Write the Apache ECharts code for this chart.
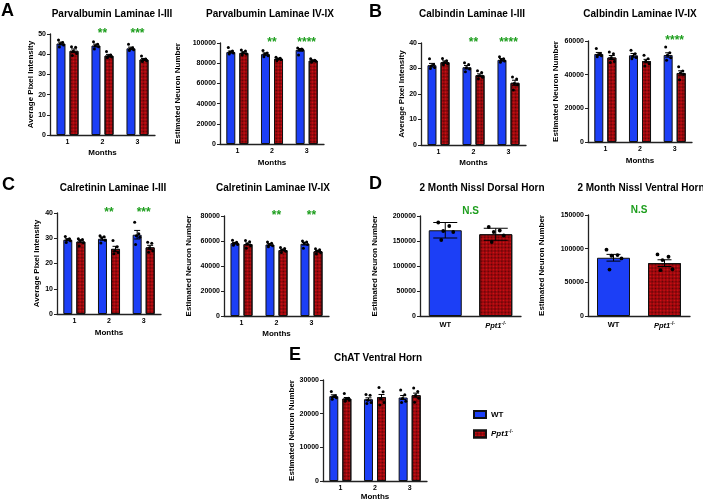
<!DOCTYPE html>
<html><head><meta charset="utf-8">
<script src="https://cdn.jsdelivr.net/npm/echarts@6/dist/echarts.min.js"></script>
<style>html,body{margin:0;padding:0;background:#fff}#c{width:703px;height:503px}</style>
</head><body><div id="c"></div>
<script>
// ---------------- DATA ----------------
const months = ['1', '2', '3'];
const genotypeCats = ['WT', 'Ppt1'];

// A: Parvalbumin Laminae I-III (average pixel intensity)
const pvI_ticks = [0, 10, 20, 30, 40, 50];
const pvI_WT = [45.3, 44.3, 42.9];
const pvI_KO = [41.7, 39.3, 37.4];
const pvI_WT_sem = [0.7, 0.7, 0.6];
const pvI_KO_sem = [0.9, 0.6, 0.5];
const pvI_WT_pts = [[47.0,45.8,45.2,44.6,43.6],[46.2,44.9,44.2,43.7,42.6],[44.9,43.2,42.6,42.2,41.8]];
const pvI_KO_pts = [[43.7,43.4,41.5,40.4,39.3],[41.3,39.6,38.9,38.6,38.2],[39.1,37.6,37.2,36.8,36.4]];
const pvI_stars = ['', '**', '***'];

// A: Parvalbumin Laminae IV-IX (estimated neuron number)
const pvIV_ticks = [0, 20000, 40000, 60000, 80000, 100000];
const pvIV_WT = [91000, 89000, 93200];
const pvIV_KO = [90200, 84300, 82600];
const pvIV_WT_sem = [1000, 1200, 1300];
const pvIV_KO_sem = [900, 700, 600];
const pvIV_WT_pts = [[95500,92000,91000,90000,89000],[92500,90000,89000,87500,86500],[95000,94000,93500,93000,88000]];
const pvIV_KO_pts = [[93000,92000,90500,89000,88000],[86000,85000,84000,83500,82500],[84500,83000,82500,82000,81000]];
const pvIV_stars = ['', '**', '****'];

// B: Calbindin Laminae I-III
const cbI_ticks = [0, 10, 20, 30, 40];
const cbI_WT = [31.3, 30.5, 33.4];
const cbI_KO = [32.5, 27.4, 24.4];
const cbI_WT_sem = [0.7, 0.7, 0.5];
const cbI_KO_sem = [0.5, 0.5, 1.0];
const cbI_WT_pts = [[33.8,31.6,31.0,30.4,30.0],[32.3,31.6,30.3,29.8,28.7],[34.6,33.8,33.3,32.9,32.5]];
const cbI_KO_pts = [[33.9,33.0,32.4,31.9,31.5],[29.1,28.4,27.2,26.6,26.0],[26.7,25.9,24.1,23.6,21.6]];
const cbI_stars = ['', '**', '****'];

// B: Calbindin Laminae IV-IX
const cbIV_ticks = [0, 20000, 40000, 60000];
const cbIV_WT = [52300, 51500, 51700];
const cbIV_KO = [50200, 48100, 41000];
const cbIV_WT_sem = [900, 1100, 1300];
const cbIV_KO_sem = [1200, 1000, 1300];
const cbIV_WT_pts = [[55500,52500,51800,51200,50600],[54500,52500,51000,50200,49500],[56500,53000,51500,50000,48500]];
const cbIV_KO_pts = [[53500,52500,50000,47800,47200],[51500,49500,48000,46500,45200],[44700,42200,41000,40200,37000]];
const cbIV_stars = ['', '', '****'];

// C: Calretinin Laminae I-III
const crI_ticks = [0, 10, 20, 30, 40];
const crI_WT = [29.4, 29.8, 31.4];
const crI_KO = [28.7, 25.8, 26.4];
const crI_WT_sem = [0.4, 0.6, 1.7];
const crI_KO_sem = [0.5, 1.0, 0.8];
const crI_WT_pts = [[30.7,29.8,29.4,29.0,28.3],[31.0,30.6,30.2,29.2,28.1],[36.3,31.8,31.0,30.4,27.5]];
const crI_KO_pts = [[29.8,29.5,29.1,28.2,26.9],[29.1,26.6,25.0,24.4,23.9],[28.4,28.0,26.2,25.0,24.5]];
const crI_stars = ['', '**', '***'];

// C: Calretinin Laminae IV-IX
const crIV_ticks = [0, 20000, 40000, 60000, 80000];
const crIV_WT = [58300, 57200, 57800];
const crIV_KO = [57600, 52800, 51800];
const crIV_WT_sem = [600, 700, 1000];
const crIV_KO_sem = [800, 600, 500];
const crIV_WT_pts = [[60600,59000,58000,57300,56600],[59300,58200,57000,56300,55400],[60000,59200,58400,57300,54200]];
const crIV_KO_pts = [[60500,59500,57600,56200,54200],[54800,54000,52800,51800,50800],[53800,53000,52000,50800,49600]];
const crIV_stars = ['', '**', '**'];

// D: 2 Month Nissl Dorsal Horn
const nisD_ticks = [0, 50000, 100000, 150000, 200000];
const nisD_WT = [171500];
const nisD_KO = [163500];
const nisD_WT_sd = [15500];
const nisD_KO_sd = [12000];
const nisD_WT_pts = [[187000,180000,170000,168000,152000]];
const nisD_KO_pts = [[178000,171000,168000,161000,148000]];
const nisD_stars = ['N.S'];

// D: 2 Month Nissl Ventral Horn
const nisV_ticks = [0, 50000, 100000, 150000];
const nisV_WT = [86500];
const nisV_KO = [78500];
const nisV_WT_sem = [5000];
const nisV_KO_sem = [5000];
const nisV_WT_pts = [[98500,90500,89500,85500,69000]];
const nisV_KO_pts = [[91500,88000,83000,69500,68000]];
const nisV_stars = ['N.S'];

// E: ChAT Ventral Horn
const chat_ticks = [0, 10000, 20000, 30000];
const chat_WT = [25200, 24300, 24800];
const chat_KO = [24500, 24900, 25500];
const chat_WT_sem = [400, 400, 600];
const chat_KO_sem = [300, 800, 600];
const chat_WT_pts = [[26600,25300,25000,24700,24300],[25700,25500,24000,23300,23000],[27000,25600,24500,23700,23300]];
const chat_KO_pts = [[26000,24600,24300,24000,23700],[27800,26500,24500,23300,22600],[27600,26600,25400,24600,23400]];
const chat_stars = ['', '', ''];

// ---------------- STYLE / LAYOUT ----------------
const FONT = '"Liberation Sans", Arial, sans-serif';
const BLUE = '#1c3ff6';
const RED = '#dc0f16';
const GREEN = '#1d9e1d';
const AXIS = '#222';
const wtStyle = { color: BLUE, borderColor: '#111', borderWidth: 1 };
const koStyle = {
  color: RED, borderColor: '#111', borderWidth: 1,
  decal: { symbol: 'rect', symbolSize: 1, dashArrayX: [[1, 1], [0, 1, 1, 0]], dashArrayY: [1, 0], rotation: Math.PI / 4, color: 'rgba(55,0,0,0.8)' }
};
const narrow = { barWidth: 9, barGap: '45%', offsets: [-6.5, 6.5], jitter: [-2.5, 1.6, -0.8, 2.6, -1.6], r: 1.5, cap: 3 };
const wide = { barWidth: 33, barGap: '-100%', offsets: [0, 0], jitter: [-7, 4, -2, 8, -4], r: 1.9, cap: 12 };

const panels = [
  { cats: months, ticks: pvI_ticks, wt: pvI_WT, ko: pvI_KO, wtErr: pvI_WT_sem, koErr: pvI_KO_sem, wtPts: pvI_WT_pts, koPts: pvI_KO_pts, stars: pvI_stars,
    title: 'Parvalbumin Laminae I-III', tx: 112, ty: 14, grid: { left: 50, top: 34, width: 105, height: 101 }, yName: 'Average Pixel Intensity', yGap: 9, xName: 'Months', xGap: 14, ...narrow },
  { cats: months, ticks: pvIV_ticks, wt: pvIV_WT, ko: pvIV_KO, wtErr: pvIV_WT_sem, koErr: pvIV_KO_sem, wtPts: pvIV_WT_pts, koPts: pvIV_KO_pts, stars: pvIV_stars,
    title: 'Parvalbumin Laminae IV-IX', tx: 270, ty: 14, grid: { left: 220, top: 43, width: 104, height: 101 }, yName: 'Estimated Neuron Number', yGap: 38, xName: 'Months', xGap: 15, ...narrow },
  { cats: months, ticks: cbI_ticks, wt: cbI_WT, ko: cbI_KO, wtErr: cbI_WT_sem, koErr: cbI_KO_sem, wtPts: cbI_WT_pts, koPts: cbI_KO_pts, stars: cbI_stars,
    title: 'Calbindin Laminae I-III', tx: 472, ty: 14, grid: { left: 421, top: 43, width: 105, height: 102 }, yName: 'Average Pixel Intensity', yGap: 12, xName: 'Months', xGap: 14, ...narrow },
  { cats: months, ticks: cbIV_ticks, wt: cbIV_WT, ko: cbIV_KO, wtErr: cbIV_WT_sem, koErr: cbIV_KO_sem, wtPts: cbIV_WT_pts, koPts: cbIV_KO_pts, stars: cbIV_stars,
    title: 'Calbindin Laminae IV-IX', tx: 640, ty: 14, grid: { left: 588, top: 41, width: 104, height: 101 }, yName: 'Estimated Neuron Number', yGap: 28, xName: 'Months', xGap: 15, ...narrow },
  { cats: months, ticks: crI_ticks, wt: crI_WT, ko: crI_KO, wtErr: crI_WT_sem, koErr: crI_KO_sem, wtPts: crI_WT_pts, koPts: crI_KO_pts, stars: crI_stars,
    title: 'Calretinin Laminae I-III', tx: 113, ty: 188, grid: { left: 57, top: 213, width: 104, height: 101 }, yName: 'Average Pixel Intensity', yGap: 16, xName: 'Months', xGap: 15, ...narrow },
  { cats: months, ticks: crIV_ticks, wt: crIV_WT, ko: crIV_KO, wtErr: crIV_WT_sem, koErr: crIV_KO_sem, wtPts: crIV_WT_pts, koPts: crIV_KO_pts, stars: crIV_stars,
    title: 'Calretinin Laminae IV-IX', tx: 273, ty: 188, grid: { left: 224, top: 216, width: 105, height: 100 }, yName: 'Estimated Neuron Number', yGap: 31, xName: 'Months', xGap: 14, ...narrow },
  { cats: genotypeCats, ticks: nisD_ticks, wt: nisD_WT, ko: nisD_KO, wtErr: nisD_WT_sd, koErr: nisD_KO_sd, wtPts: nisD_WT_pts, koPts: nisD_KO_pts, stars: nisD_stars, mid: true,
    title: '2 Month Nissl Dorsal Horn', tx: 482, ty: 188, grid: { left: 420, top: 216, width: 101, height: 100 }, yName: 'Estimated Neuron Number', yGap: 41, xName: '', xGap: 14, ...wide },
  { cats: genotypeCats, ticks: nisV_ticks, wt: nisV_WT, ko: nisV_KO, wtErr: nisV_WT_sem, koErr: nisV_KO_sem, wtPts: nisV_WT_pts, koPts: nisV_KO_pts, stars: nisV_stars, mid: true,
    title: '2 Month Nissl Ventral Horn', tx: 641, ty: 188, grid: { left: 588, top: 215, width: 102, height: 101 }, yName: 'Estimated Neuron Number', yGap: 42, xName: '', xGap: 14, ...wide, cap: 7 },
  { cats: months, ticks: chat_ticks, wt: chat_WT, ko: chat_KO, wtErr: chat_WT_sem, koErr: chat_KO_sem, wtPts: chat_WT_pts, koPts: chat_KO_pts, stars: chat_stars,
    title: 'ChAT Ventral Horn', tx: 378, ty: 358, grid: { left: 323, top: 380, width: 104, height: 101 }, yName: 'Estimated Neuron Number', yGap: 25, xName: 'Months', xGap: 11, ...narrow }
];

const letters = [
  { t: 'A', x: 1, y: 2 }, { t: 'B', x: 369, y: 3 }, { t: 'C', x: 2, y: 176 },
  { t: 'D', x: 369, y: 175 }, { t: 'E', x: 289, y: 346 }
];

// ---------------- BUILD ----------------
const grids = [], xAxes = [], yAxes = [], series = [], graphics = [];
const labelRich = {
  b: { fontFamily: FONT, fontWeight: 'bold', fontSize: 7.5, color: '#000' },
  i: { fontFamily: FONT, fontWeight: 'bold', fontStyle: 'italic', fontSize: 7.5, color: '#000' },
  s: { fontFamily: FONT, fontWeight: 'bold', fontSize: 5, color: '#000', padding: [0, 0, 5, 0] }
};

panels.forEach((p, idx) => {
  grids.push(Object.assign({ containLabel: false, outerBoundsMode: 'none' }, p.grid));
  const isGeno = p.cats === genotypeCats;
  xAxes.push({
    type: 'category', gridIndex: idx, data: p.cats,
    axisLine: { lineStyle: { color: AXIS, width: 1.3 } },
    axisTick: { alignWithLabel: true, length: 3, lineStyle: { color: AXIS, width: 1 } },
    axisLabel: isGeno
      ? { margin: 5, interval: 0, showMaxLabel: true, hideOverlap: false, formatter: v => v === 'Ppt1' ? '{i|Ppt1}{s|-/-}' : '{b|' + v + '}', rich: labelRich }
      : { margin: 4, interval: 0, fontFamily: FONT, fontWeight: 'bold', fontSize: 7, color: '#000' },
    name: p.xName, nameLocation: 'middle', nameGap: p.xGap,
    nameTextStyle: { fontFamily: FONT, fontWeight: 'bold', fontSize: 8, color: '#000' }
  });
  const t = p.ticks;
  yAxes.push({
    type: 'value', gridIndex: idx, min: t[0], max: t[t.length - 1], interval: t[1] - t[0],
    axisLine: { show: true, lineStyle: { color: AXIS, width: 1.3 } },
    axisTick: { show: true, length: 3, lineStyle: { color: AXIS, width: 1 } },
    splitLine: { show: false },
    axisLabel: { margin: 4, fontFamily: FONT, fontWeight: 'bold', fontSize: 7, color: '#000', formatter: v => String(v) },
    name: p.yName, nameLocation: 'middle', nameGap: p.yGap,
    nameTextStyle: { fontFamily: FONT, fontWeight: 'bold', fontSize: 8, color: '#000' }
  });

  const groups = [
    { name: 'WT', means: p.wt, errs: p.wtErr, pts: p.wtPts, cat: isGeno ? [0] : [0, 1, 2], style: wtStyle },
    { name: 'Ppt1', means: p.ko, errs: p.koErr, pts: p.koPts, cat: isGeno ? [1] : [0, 1, 2], style: koStyle }
  ];
  groups.forEach(g => {
    const data = p.cats.map(() => '-');
    g.means.forEach((m, j) => { data[g.cat[j]] = m; });
    series.push({ type: 'bar', name: g.name, xAxisIndex: idx, yAxisIndex: idx, data,
      barWidth: p.barWidth, barGap: p.barGap, itemStyle: g.style, silent: true, z: 2 });
  });

  const errData = [], ptData = [];
  groups.forEach((g, gi) => {
    g.means.forEach((m, j) => errData.push([g.cat[j], m, g.errs[j], gi]));
    g.pts.forEach((arr, j) => arr.forEach((v, k) => ptData.push([g.cat[j], v, gi, k])));
  });
  const offs = p.offsets, cap = p.cap, jit = p.jitter, r = p.r;
  series.push({
    type: 'custom', xAxisIndex: idx, yAxisIndex: idx, data: errData, silent: true, z: 4,
    renderItem: (params, api) => {
      const i = api.value(0), m = api.value(1), e = api.value(2), gi = api.value(3);
      const x = api.coord([i, m])[0] + offs[gi];
      const y1 = api.coord([i, m + e])[1], y2 = api.coord([i, m - e])[1];
      const st = { stroke: '#000', lineWidth: 1, fill: null };
      return { type: 'group', children: [
        { type: 'line', shape: { x1: x, y1: y1, x2: x, y2: y2 }, style: st },
        { type: 'line', shape: { x1: x - cap, y1: y1, x2: x + cap, y2: y1 }, style: st },
        { type: 'line', shape: { x1: x - cap, y1: y2, x2: x + cap, y2: y2 }, style: st }
      ] };
    }
  });
  series.push({
    type: 'custom', xAxisIndex: idx, yAxisIndex: idx, data: ptData, silent: true, z: 5,
    renderItem: (params, api) => {
      const i = api.value(0), v = api.value(1), gi = api.value(2), k = api.value(3);
      const c = api.coord([i, v]);
      return { type: 'circle', shape: { cx: c[0] + offs[gi] + jit[k % jit.length], cy: c[1], r: r }, style: { fill: '#000' } };
    }
  });
  const starData = [];
  p.stars.forEach((s, i) => { if (s) starData.push([i, 0, i]); });
  const starLabels = p.stars, mid = !!p.mid;
  series.push({
    type: 'custom', xAxisIndex: idx, yAxisIndex: idx, data: starData, silent: true, z: 6,
    renderItem: (params, api) => {
      const i = api.value(0);
      let x = api.coord([i, 0])[0];
      if (mid) x += api.size([1, 0])[0] / 2;
      const txt = starLabels[api.value(2)];
      const ns = txt.indexOf('*') < 0;
      return { type: 'text', x: x, y: params.coordSys.y + (ns ? -5 : 0),
        style: { text: txt, fill: GREEN, font: 'bold ' + (ns ? 10 : 12) + 'px ' + FONT, align: 'center', verticalAlign: 'middle' } };
    }
  });

  graphics.push({ type: 'text', x: p.tx, y: p.ty, silent: true,
    style: { text: p.title, font: 'bold 10px ' + FONT, fill: '#000', align: 'center', verticalAlign: 'middle' } });
});

letters.forEach(l => graphics.push({ type: 'text', x: l.x, y: l.y, silent: true,
  style: { text: l.t, font: 'bold 18px ' + FONT, fill: '#000', align: 'left', verticalAlign: 'top' } }));

const chart = echarts.init(document.getElementById('c'), null, { renderer: 'canvas', width: 703, height: 503 });
chart.setOption({
  animation: false,
  backgroundColor: '#fff',
  grid: grids, xAxis: xAxes, yAxis: yAxes, series: series, graphic: graphics,
  legend: {
    orient: 'vertical', left: 473, top: 410, padding: 0, itemWidth: 12, itemHeight: 7, itemGap: 10,
    selectedMode: false, icon: 'rect', data: ['WT', 'Ppt1'],
    formatter: n => n === 'Ppt1' ? '{i|Ppt1}{s|-/-}' : '{b|WT}',
    textStyle: { rich: {
      b: { fontFamily: FONT, fontWeight: 'bold', fontSize: 8, color: '#000' },
      i: { fontFamily: FONT, fontWeight: 'bold', fontStyle: 'italic', fontSize: 8, color: '#000' },
      s: { fontFamily: FONT, fontWeight: 'bold', fontSize: 5, color: '#000', padding: [0, 0, 5, 0] }
    } }
  }
});
</script>
</body></html>
